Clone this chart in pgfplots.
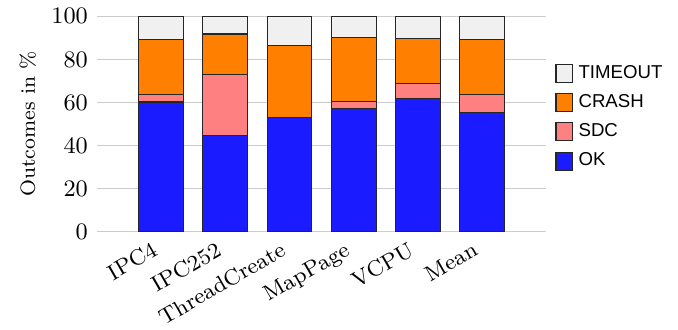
\documentclass[border=0pt]{standalone}
\usepackage{fontspec}
\usepackage{pgfplots}
\pgfplotsset{compat=1.18}
\newfontfamily\legfont{Liberation Sans}
\definecolor{okc}{RGB}{27,27,255}
\definecolor{sdcc}{RGB}{255,128,128}
\definecolor{crashc}{RGB}{255,128,0}
\definecolor{toc}{RGB}{240,240,240}
\begin{document}
\begin{tikzpicture}
\begin{axis}[
  name=ax,
  scale only axis,
  width=171pt, height=82pt,
  ybar stacked,
  bar width=0.7,
  xmin=-1, xmax=6,
  ymin=0, ymax=100,
  ytick={0,20,40,60,80,100},
  xtick={0,1,2,3,4,5},
  xticklabels={IPC4,IPC252,ThreadCreate,MapPage,VCPU,Mean},
  yticklabel style={font=\fontsize{9}{10}\selectfont},
  xticklabel style={font=\fontsize{8.4}{10}\selectfont, rotate=30, anchor=north east, inner sep=1pt, xshift=-4pt},
  ymajorgrids,
  grid style={gray!40, line width=0.5pt},
  axis line style={draw=none},
  major tick length=0pt,
  ylabel={Outcomes in \%},
  ylabel style={font=\fontsize{7.8}{9}\selectfont, yshift=-1pt},
  legend style={draw=none, at={(1.02,0.53)}, anchor=west, font=\legfont\fontsize{7.1}{8}\selectfont,
    row sep=0.7pt, inner sep=0pt},
  legend cell align=left,
  reverse legend,
  legend image code/.code={\draw[#1] (0pt,-3.3pt) rectangle (6.4pt,3.5pt);},
  every axis plot/.append style={draw=black!85, line width=0.4pt},
]
\addplot[fill=okc] coordinates {(0,60.2) (1,44.6) (2,53.2) (3,57.1) (4,62.0) (5,55.4)};
\addplot[fill=sdcc] coordinates {(0,3.4) (1,28.3) (2,0.0) (3,3.4) (4,6.8) (5,8.4)};
\addplot[fill=crashc] coordinates {(0,25.8) (1,18.9) (2,33.1) (3,29.5) (4,20.7) (5,25.6)};
\addplot[fill=toc] coordinates {(0,10.6) (1,8.2) (2,13.7) (3,10.0) (4,10.5) (5,10.6)};
\legend{OK,SDC,CRASH,TIMEOUT}
\end{axis}
\path ([xshift=-37pt]ax.west) -- ([xshift=50.3pt]ax.east);
\end{tikzpicture}
\end{document}
